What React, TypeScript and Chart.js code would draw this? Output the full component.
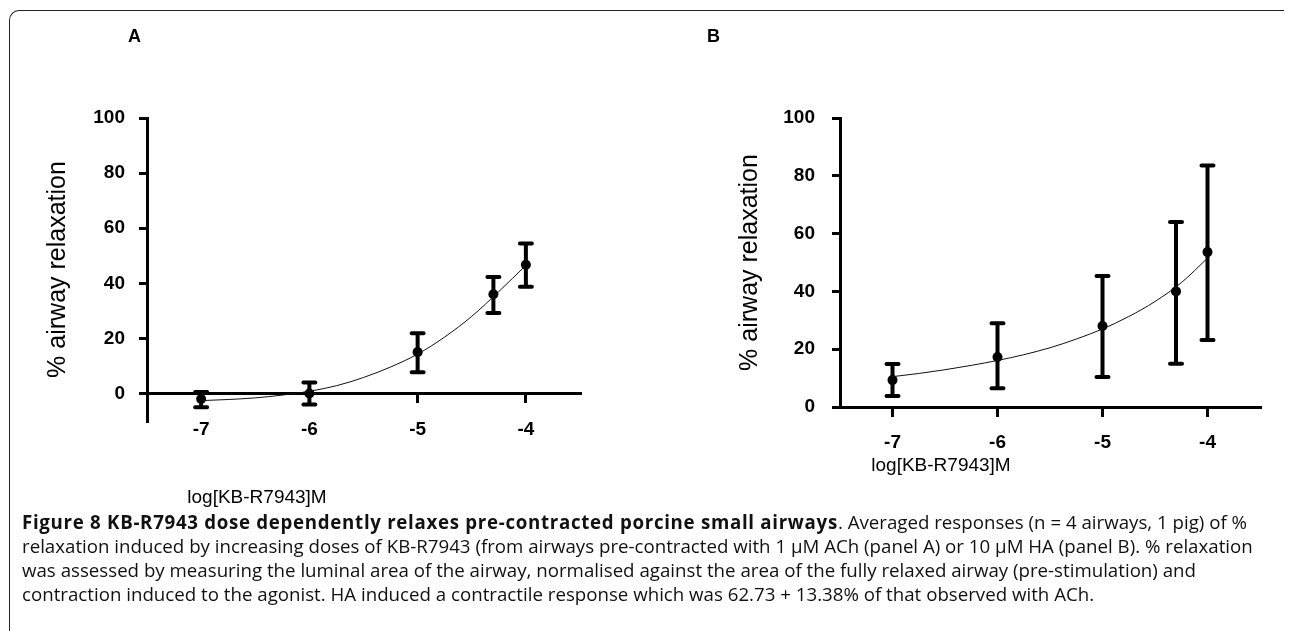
import React, { useEffect, useRef } from "react";
import { Chart, registerables } from "chart.js";

Chart.register(...registerables);

// ---- data ----
const doses = [-7, -6, -5, -4.3, -4];

const meanA = [-2, 0, 15, 36, 46.7];
const lowA = [-5, -4, 7.7, 29.2, 38.7];
const highA = [0.5, 4, 21.9, 42.3, 54.4];

const meanB = [9.3, 17.3, 28, 40, 53.6];
const lowB = [3.8, 6.5, 10.4, 15, 23.2];
const highB = [14.9, 29, 45.3, 64, 83.6];

// fitted curves
const curveX = [-7, -6.75, -6.5, -6.25, -6, -5.75, -5.5, -5.25, -5, -4.75, -4.5, -4.25, -4];
const curveA = [-2.6, -2.2, -1.6, -0.6, 0.8, 2.8, 5.8, 9.6, 14.3, 20.5, 28, 37, 46.5];
const curveB = [10.5, 11.6, 12.9, 14.4, 16.1, 18.1, 20.5, 23.5, 27, 31.3, 36.5, 43, 51.5];

const xTicks = [-7, -6, -5, -4];
const xTickLabels = ["-7", "-6", "-5", "-4"];
const yTicks = [0, 20, 40, 60, 80, 100];
const yTickLabels = ["0", "20", "40", "60", "80", "100"];

const panelLabels = ["A", "B"];
const yTitle = "% airway relaxation";
const xTitle = "log[KB-R7943]M";

const FONT = "'Liberation Sans', Arial, sans-serif";

type PanelCfg = {
  mean: number[];
  low: number[];
  high: number[];
  curve: number[];
  yMin: number;
  yAxisWidth: number;
  yTitlePad: number;
  yTickPad: number;
  xTickPad: number;
  padding: { left: number; top: number; right: number; bottom: number };
};

function makeErrorBarPlugin(xs: number[], lows: number[], highs: number[]) {
  return {
    id: "errorBars",
    beforeDatasetsDraw(chart: any) {
      const ctx = chart.ctx;
      const xS = chart.scales.x;
      const yS = chart.scales.y;
      ctx.save();
      ctx.strokeStyle = "#000";
      ctx.lineWidth = 4;
      ctx.lineCap = "round";
      xs.forEach((v, i) => {
        const px = xS.getPixelForValue(v);
        const y1 = yS.getPixelForValue(lows[i]);
        const y2 = yS.getPixelForValue(highs[i]);
        ctx.beginPath();
        ctx.moveTo(px, y1);
        ctx.lineTo(px, y2);
        ctx.moveTo(px - 6, y1);
        ctx.lineTo(px + 6, y1);
        ctx.moveTo(px - 6, y2);
        ctx.lineTo(px + 6, y2);
        ctx.stroke();
      });
      ctx.restore();
    },
  };
}

function Panel({ cfg, width, height }: { cfg: PanelCfg; width: number; height: number }) {
  const ref = useRef<HTMLCanvasElement | null>(null);
  useEffect(() => {
    if (!ref.current) return;
    const chart = new Chart(ref.current, {
      type: "scatter",
      data: {
        datasets: [
          {
            data: curveX.map((x, i) => ({ x, y: cfg.curve[i] })),
            showLine: true,
            borderColor: "#111",
            borderWidth: 1,
            pointRadius: 0,
            cubicInterpolationMode: "monotone",
          } as any,
          {
            data: doses.map((x, i) => ({ x, y: cfg.mean[i] })),
            showLine: false,
            pointRadius: 5,
            pointBackgroundColor: "#000",
            pointBorderColor: "#000",
            pointBorderWidth: 0,
          },
        ],
      },
      options: {
        animation: false,
        responsive: false,
        maintainAspectRatio: false,
        devicePixelRatio: 1,
        layout: { padding: cfg.padding },
        plugins: {
          legend: { display: false },
          tooltip: { enabled: false },
        },
        scales: {
          x: {
            type: "linear",
            min: -7.5,
            max: -3.5,
            position: { y: 0 } as any,
            afterBuildTicks: (s: any) => {
              s.ticks = xTicks.map((v) => ({ value: v }));
            },
            ticks: {
              color: "#000",
              padding: cfg.xTickPad,
              font: { family: FONT, size: 19, weight: "bold" },
              callback: (v: any) => xTickLabels[xTicks.indexOf(Number(v))] ?? "",
            },
            grid: {
              drawOnChartArea: false,
              drawTicks: true,
              tickLength: 8,
              tickWidth: 3,
              tickColor: "#000",
              color: "#000",
              lineWidth: 3,
            },
            border: { display: true, color: "#000", width: 3 },
          },
          y: {
            type: "linear",
            min: cfg.yMin,
            max: 100,
            position: "left",
            afterBuildTicks: (s: any) => {
              s.ticks = yTicks.map((v) => ({ value: v }));
            },
            afterFit: (s: any) => {
              s.width = cfg.yAxisWidth;
            },
            ticks: {
              color: "#000",
              padding: cfg.yTickPad,
              font: { family: FONT, size: 19, weight: "bold" },
              callback: (v: any) => yTickLabels[yTicks.indexOf(Number(v))] ?? "",
            },
            grid: {
              drawOnChartArea: false,
              drawTicks: true,
              tickLength: 8,
              tickWidth: 3,
              tickColor: "#000",
              color: "#000",
              lineWidth: 3,
            },
            border: { display: true, color: "#000", width: 3 },
            title: {
              display: true,
              text: yTitle,
              color: "#000",
              font: { family: FONT, size: 25, weight: "normal" },
              padding: { top: cfg.yTitlePad, bottom: 0 },
            },
          },
        },
      },
      plugins: [makeErrorBarPlugin(doses, cfg.low, cfg.high)],
    });
    return () => chart.destroy();
  }, []);
  return <canvas ref={ref} width={width} height={height} style={{ width, height, display: "block" }} />;
}

const cfgA: PanelCfg = {
  mean: meanA,
  low: lowA,
  high: highA,
  curve: curveA,
  yMin: -10,
  yAxisWidth: 147,
  yTitlePad: 43,
  yTickPad: 14,
  xTickPad: 17,
  padding: { left: 0, top: 118, right: 60, bottom: 99 },
};

const cfgB: PanelCfg = {
  mean: meanB,
  low: lowB,
  high: highB,
  curve: curveB,
  yMin: 0,
  yAxisWidth: 195,
  yTitlePad: 90,
  yTickPad: 17,
  xTickPad: 16,
  padding: { left: 0, top: 118, right: 30, bottom: 113 },
};

const textAbs = (left: number, top: number, extra: React.CSSProperties = {}): React.CSSProperties => ({
  position: "absolute",
  left,
  top,
  transform: "translate(-50%, -50%)",
  whiteSpace: "nowrap",
  fontFamily: FONT,
  color: "#000",
  ...extra,
});

export default function App() {
  return (
    <div
      style={{
        position: "absolute",
        left: 0,
        top: 0,
        width: 1290,
        height: 631,
        overflow: "hidden",
        background: "#fff",
      }}
    >
      <div
        style={{
          position: "absolute",
          left: 9,
          top: 10,
          width: 1275,
          height: 700,
          borderTop: "1px solid #222",
          borderLeft: "1px solid #222",
          borderTopLeftRadius: 10,
          boxSizing: "border-box",
        }}
      />
      <div style={{ position: "absolute", left: 0, top: 0 }}>
        <Panel cfg={cfgA} width={640} height={520} />
      </div>
      <div style={{ position: "absolute", left: 645, top: 0 }}>
        <Panel cfg={cfgB} width={645} height={520} />
      </div>
      <div style={textAbs(134.5, 36, { fontWeight: "bold", fontSize: 18 })}>{panelLabels[0]}</div>
      <div style={textAbs(713.5, 36, { fontWeight: "bold", fontSize: 18 })}>{panelLabels[1]}</div>
      <div style={textAbs(257, 497, { fontSize: 19 })}>{xTitle}</div>
      <div style={textAbs(941, 465, { fontSize: 19 })}>{xTitle}</div>
      <div
        style={{
          position: "absolute",
          left: 22,
          top: 510,
          width: 1268,
          fontFamily: "'Open Sans', 'Noto Sans', sans-serif",
          fontSize: 18.7,
          lineHeight: "24px",
          color: "#111",
          whiteSpace: "nowrap",
        }}
      >
        <div>
          <b style={{ letterSpacing: "0.7px" }}>Figure 8 KB-R7943 dose dependently relaxes pre-contracted porcine small airways</b>. Averaged
          responses (n = 4 airways, 1 pig) of %
        </div>
        <div>
          relaxation induced by increasing doses of KB-R7943 (from airways pre-contracted with 1 µM ACh (panel A) or
          10 µM HA (panel B). % relaxation
        </div>
        <div>
          was assessed by measuring the luminal area of the airway, normalised against the area of the fully relaxed
          airway (pre-stimulation) and
        </div>
        <div>
          contraction induced to the agonist. HA induced a contractile response which was 62.73 + 13.38% of that
          observed with ACh.
        </div>
      </div>
    </div>
  );
}
